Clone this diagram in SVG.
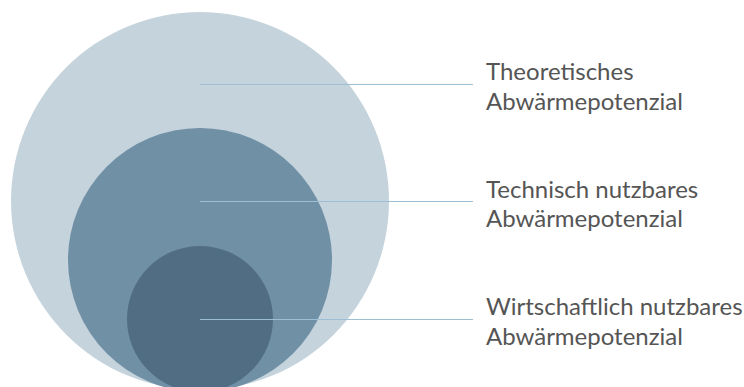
<svg xmlns="http://www.w3.org/2000/svg" width="744" height="387" viewBox="0 0 744 387">
<style>
.lbl{font-family:Lato,"Open Sans",sans-serif;font-size:24px;font-weight:400;fill:#555555}
.conn{stroke:#9dbfd6;stroke-width:1;fill:none}
</style>
<rect width="744" height="387" fill="#ffffff"/>
<g id="theoretisch"><circle cx="200" cy="201" r="189" fill="#c5d3dc"/></g>
<g id="technisch"><circle cx="200" cy="260" r="132" fill="#7090a6"/></g>
<g id="wirtschaftlich"><circle cx="200" cy="319" r="73" fill="#516d83"/></g>
<g id="connectors">
<line class="conn" x1="200" y1="84.5" x2="473" y2="84.5"/>
<line class="conn" x1="200" y1="201.5" x2="473" y2="201.5"/>
<line class="conn" x1="200" y1="319.5" x2="473" y2="319.5"/>
</g>
<g id="labels">
<text class="lbl" x="486" y="80">Theoretisches</text>
<text class="lbl" x="486" y="109.5">Abwärmepotenzial</text>
<text class="lbl" x="486" y="197.5">Technisch nutzbares</text>
<text class="lbl" x="486" y="227">Abwärmepotenzial</text>
<text class="lbl" x="486" y="315">Wirtschaftlich nutzbares</text>
<text class="lbl" x="486" y="344.5">Abwärmepotenzial</text>
</g>
</svg>
